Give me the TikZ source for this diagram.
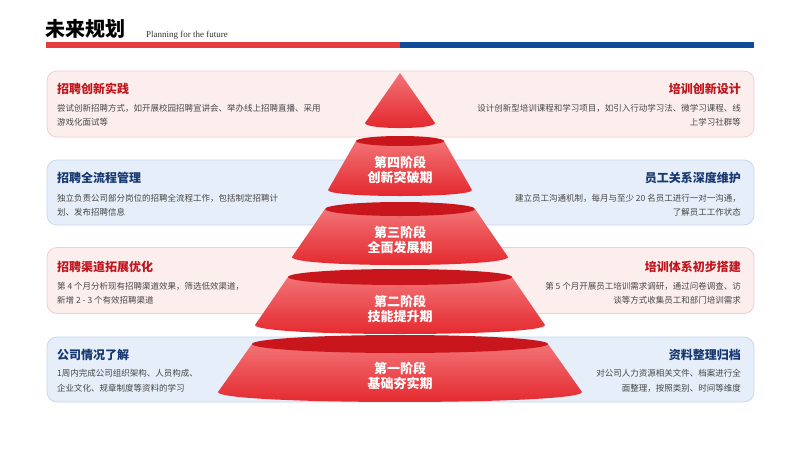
\documentclass[tikz,border=0pt]{standalone}
\usepackage{fontspec}
\setmainfont{Liberation Serif}
\newfontfamily\cjk{Noto Sans CJK SC}
\definecolor{hdred}{HTML}{E63B3F}
\definecolor{hdblue}{HTML}{0E4B9B}
\definecolor{pinkfill}{HTML}{FDEEEE}
\definecolor{pinkline}{HTML}{F3CDCD}
\definecolor{bluefill}{HTML}{E5EEF9}
\definecolor{blueline}{HTML}{C8D8EC}
\definecolor{redtitle}{HTML}{BF161E}
\definecolor{navytitle}{HTML}{173870}
\definecolor{bodytext}{HTML}{474747}
\definecolor{conetop}{HTML}{F27275}
\definecolor{conebot}{HTML}{E3262C}
\definecolor{ellred}{HTML}{C9161C}
\tikzset{
  pinkbox/.style={draw=pinkline, fill=pinkfill, line width=0.8pt, rounded corners=10pt, minimum width=707pt, minimum height=66pt, inner sep=0pt},
  bluebox/.style={draw=blueline, fill=bluefill, line width=0.8pt, rounded corners=10pt, minimum width=707pt, minimum height=65pt, inner sep=0pt},
  rtitle/.style={font=\cjk\bfseries\fontsize{12}{12}\selectfont, text=redtitle, inner sep=0pt},
  ntitle/.style={font=\cjk\bfseries\fontsize{12}{12}\selectfont, text=navytitle, inner sep=0pt},
  bodyl/.style={font=\cjk\fontsize{8.5}{14}\selectfont, text=bodytext, align=left, anchor=west, inner sep=0pt},
  bodyr/.style={font=\cjk\fontsize{8.5}{14}\selectfont, text=bodytext, align=right, anchor=east, inner sep=0pt},
  stagelbl/.style={font=\cjk\bfseries\fontsize{13}{15}\selectfont, text=white, align=center, inner sep=0pt},
  cone/.style={top color=conetop, bottom color=conebot},
  topell/.style={fill=ellred}
}
\begin{document}
\begin{tikzpicture}[x=1pt,y=-1pt]
\useasboundingbox (0,0) rectangle (800,450);
\fill[white] (0,0) rectangle (800,450);
% header
\node[anchor=west, inner sep=0pt, font=\cjk\bfseries\fontsize{20}{20}\selectfont, text=black] (title) at (45,29) {未来规划};
\node[anchor=west, inner sep=0pt, font=\fontsize{9}{9}\selectfont, text=black!80] (sub) at (146,35.5) {Planning for the future};
\fill[hdred] (46,42) rectangle (400,48);
\fill[hdblue] (400,42.4) rectangle (754,47.6);
% boxes
\node[pinkbox] (b1) at (400.5,104) {};
\node[bluebox] (b2) at (400.5,192.5) {};
\node[pinkbox] (b3) at (400.5,280.5) {};
\node[bluebox] (b4) at (400.5,369.5) {};
% left texts
\node[rtitle, anchor=west] (l1t) at (57,89) {招聘创新实践};
\node[bodyl] (l1b) at (57,115) {尝试创新招聘方式，如开展校园招聘宣讲会、举办线上招聘直播、采用\\游戏化面试等};
\node[ntitle, anchor=west] (l2t) at (57,178) {招聘全流程管理};
\node[bodyl] (l2b) at (57,205) {独立负责公司部分岗位的招聘全流程工作，包括制定招聘计\\划、发布招聘信息};
\node[rtitle, anchor=west] (l3t) at (57,267) {招聘渠道拓展优化};
\node[bodyl] (l3b) at (57,293) {第 4 个月分析现有招聘渠道效果，筛选低效渠道，\\新增 2 - 3 个有效招聘渠道};
\node[ntitle, anchor=west] (l4t) at (57,355) {公司情况了解};
\node[bodyl, font=\cjk\fontsize{8.5}{15}\selectfont] (l4b) at (57,381) {1周内完成公司组织架构、人员构成、\\企业文化、规章制度等资料的学习};
% right texts
\node[rtitle, anchor=east] (r1t) at (741,89) {培训创新设计};
\node[bodyr] (r1b) at (741,115) {设计创新型培训课程和学习项目，如引入行动学习法、微学习课程、线\\上学习社群等};
\node[ntitle, anchor=east] (r2t) at (741,178) {员工关系深度维护};
\node[bodyr] (r2b) at (741,205) {建立员工沟通机制，每月与至少 20 名员工进行一对一沟通，\\了解员工工作状态};
\node[rtitle, anchor=east] (r3t) at (741,267) {培训体系初步搭建};
\node[bodyr] (r3b) at (741,293) {第 5 个月开展员工培训需求调研，通过问卷调查、访\\谈等方式收集员工和部门培训需求};
\node[ntitle, anchor=east] (r4t) at (741,355) {资料整理归档};
\node[bodyr, font=\cjk\fontsize{8.5}{15}\selectfont] (r4b) at (741,381) {对公司人力资源相关文件、档案进行全\\面整理，按照类别、时间等维度};
% pyramid
\shade[cone] (400,73) -- (365,123) .. controls (365,129.7) and (435,129.7) .. (435,123) -- cycle;
\shade[cone] (356,141) -- (328,190) .. controls (328,198) and (472,198) .. (472,190) -- (444,141) -- cycle;
\fill[topell] (400,141) ellipse [x radius=44pt, y radius=5pt];
\shade[cone] (325,209) -- (292,257) .. controls (292,267.7) and (508,267.7) .. (508,257) -- (475,209) -- cycle;
\fill[topell] (400,209) ellipse [x radius=75pt, y radius=7pt];
\shade[cone] (288,277) -- (255,325) .. controls (255,337) and (545,337) .. (545,325) -- (512,277) -- cycle;
\fill[topell] (400,277) ellipse [x radius=112pt, y radius=8pt];
\shade[cone] (252,344) -- (218,392) .. controls (218,405.3) and (582,405.3) .. (582,392) -- (548,344) -- cycle;
\fill[topell] (400,344) ellipse [x radius=148pt, y radius=9pt];
% stage labels
\node[stagelbl] (s4) at (400,169.5) {第四阶段\\创新突破期};
\node[stagelbl] (s3) at (400,240) {第三阶段\\全面发展期};
\node[stagelbl] (s2) at (400,309) {第二阶段\\技能提升期};
\node[stagelbl] (s1) at (400,375.5) {第一阶段\\基础夯实期};
\end{tikzpicture}
\end{document}
